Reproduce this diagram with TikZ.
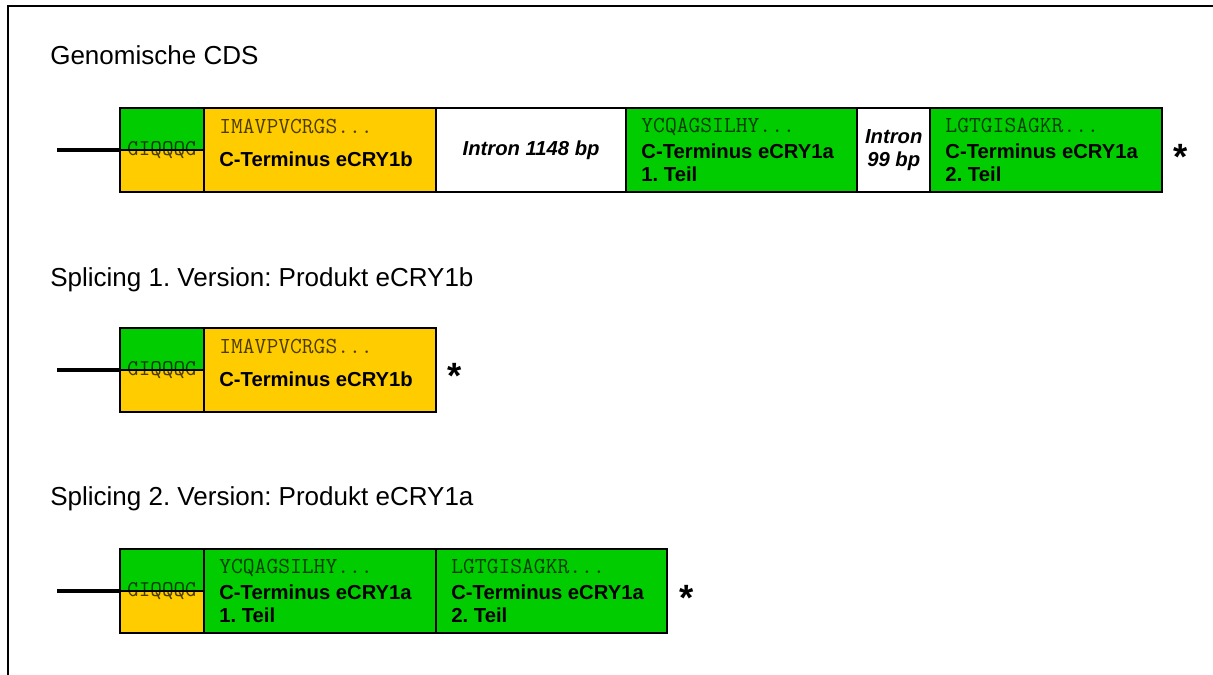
\documentclass[tikz,border=0pt]{standalone}
\usepackage{fontspec}
\setmainfont{Liberation Sans}
\usetikzlibrary{positioning}
\definecolor{exonorange}{HTML}{FFCC00}
\definecolor{exongreen}{HTML}{00CC00}
\frenchspacing

\begin{document}
\begin{tikzpicture}[x=0.025cm, y=-0.025cm,
  segment/.style={draw=black, line width=1.4pt, minimum height=2.1cm, inner sep=0pt, outer sep=0pt, anchor=west},
  signal/.style={segment, minimum width=2.1cm, fill=exongreen,
    path picture={\fill[exonorange] (path picture bounding box.west) rectangle (path picture bounding box.south east);
      \draw[line width=1.4pt] (path picture bounding box.west) -- (path picture bounding box.east);},
    font=\fontsize{16}{18}\selectfont\ttfamily, text opacity=0.7},
  orangebox/.style={segment, fill=exonorange, minimum width=5.8cm},
  greenbox/.style={segment, fill=exongreen, minimum width=5.8cm},
  intron/.style={segment, fill=white, align=center, font=\fontsize{14.4}{16.4}\selectfont\bfseries\itshape},
  seqtext/.style={anchor=base west, inner sep=0pt, text opacity=0.7, font=\fontsize{16.3}{18}\selectfont\ttfamily},
  termtext/.style={anchor=base west, inner sep=0pt, align=left, font=\fontsize{14.4}{16.4}\selectfont\bfseries},
  heading/.style={anchor=base west, inner sep=0pt, font=\fontsize{18.5}{22}\selectfont},
  stopmark/.style={inner sep=0pt, font=\fontsize{26}{30}\selectfont\bfseries},
  stub/.style={line width=2.2pt}]
  \useasboundingbox (0,0) rectangle (1213,675);
  % frame
  \draw[line width=2.1pt] (8,675) -- (8,6) -- (1213,6);

  % Genomische CDS
  \node[heading] (head1) at (50,65) {Genomische CDS};
  \node[signal] (sig1) at (120,150) {GIQQQG};
  \node[orangebox, right=0pt of sig1] (ob1) {};
  \node[intron, minimum width=4.75cm, right=0pt of ob1] (in1) {Intron 1148 bp};
  \node[greenbox, minimum width=5.775cm, right=0pt of in1] (ga1) {};
  \node[intron, minimum width=1.825cm, right=0pt of ga1] (in2) {Intron\\99 bp};
  \node[greenbox, right=0pt of in2] (gb1) {};
  \node[seqtext] (ob1seq) at ([shift={(15,26)}]ob1.north west) {IMAVPVCRGS...};
  \node[termtext] (ob1lbl) at ([shift={(15,59)}]ob1.north west) {C-Terminus eCRY1b};
  \node[seqtext] (ga1seq) at ([shift={(15,25)}]ga1.north west) {YCQAGSILHY...};
  \node[termtext] (ga1lbl) at ([shift={(15,74)}]ga1.north west) {C-Terminus eCRY1a\\1. Teil};
  \node[seqtext] (gb1seq) at ([shift={(15,25)}]gb1.north west) {LGTGISAGKR...};
  \node[termtext] (gb1lbl) at ([shift={(15,74)}]gb1.north west) {C-Terminus eCRY1a\\2. Teil};
  \node[stopmark] (stop1) at (1181,157) {*};
  \coordinate (lead1) at (57,150);
  \draw[stub] (lead1) -- (sig1.west);

  % Splicing 1
  \node[heading] (head2) at (50,287) {Splicing 1. Version: Produkt eCRY1b};
  \node[signal] (sig2) at (120,370) {GIQQQG};
  \node[orangebox, right=0pt of sig2] (ob2) {};
  \node[seqtext] (ob2seq) at ([shift={(15,26)}]ob2.north west) {IMAVPVCRGS...};
  \node[termtext] (ob2lbl) at ([shift={(15,59)}]ob2.north west) {C-Terminus eCRY1b};
  \node[stopmark] (stop2) at (455,376) {*};
  \coordinate (lead2) at (57,370);
  \draw[stub] (lead2) -- (sig2.west);

  % Splicing 2
  \node[heading] (head3) at (50,505) {Splicing 2. Version: Produkt eCRY1a};
  \node[signal] (sig3) at (120,591) {GIQQQG};
  \node[greenbox, right=0pt of sig3] (ga3) {};
  \node[greenbox, minimum width=5.775cm, right=0pt of ga3] (gb3) {};
  \node[seqtext] (ga3seq) at ([shift={(15,25)}]ga3.north west) {YCQAGSILHY...};
  \node[termtext] (ga3lbl) at ([shift={(15,74)}]ga3.north west) {C-Terminus eCRY1a\\1. Teil};
  \node[seqtext] (gb3seq) at ([shift={(15,25)}]gb3.north west) {LGTGISAGKR...};
  \node[termtext] (gb3lbl) at ([shift={(15,74)}]gb3.north west) {C-Terminus eCRY1a\\2. Teil};
  \node[stopmark] (stop3) at (687,598) {*};
  \coordinate (lead3) at (57,591);
  \draw[stub] (lead3) -- (sig3.west);
\end{tikzpicture}
\end{document}
